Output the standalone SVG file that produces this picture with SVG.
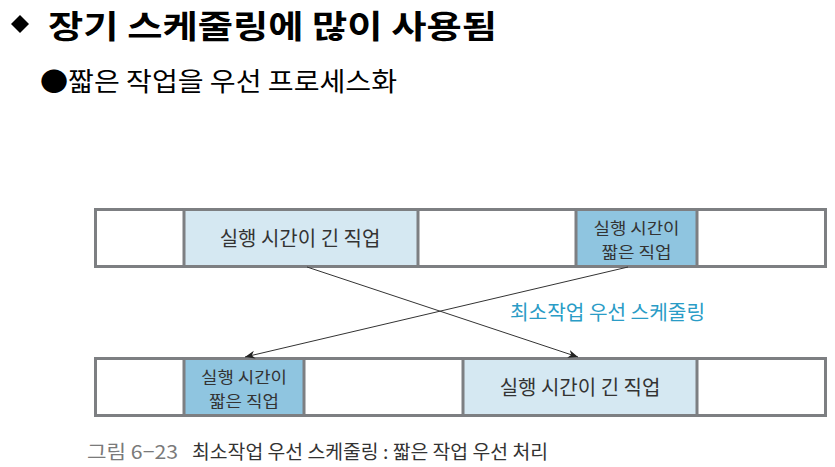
<svg xmlns="http://www.w3.org/2000/svg" width="835" height="467" viewBox="0 0 835 467">
<defs>
<style>
.t{font-family:"Noto Sans CJK KR","Noto Sans",sans-serif}
.bar{fill:#ffffff;stroke:#7d7f82;stroke-width:3}
.lb{fill:#d5e8f2;stroke:#7d7f82;stroke-width:3}
.db{fill:#8fc5e0;stroke:#7d7f82;stroke-width:3}
.bt{font-family:"Noto Sans CJK KR","Noto Sans",sans-serif;fill:#333333;text-anchor:middle}
.ln{stroke:#333333;stroke-width:1;fill:none}
</style>
<marker id="ah" viewBox="0 0 10 10" refX="10" refY="5" markerWidth="10" markerHeight="10" markerUnits="userSpaceOnUse" orient="auto">
<path d="M0,1 L10,5 L0,9 L3,5 Z" fill="#222222"/>
</marker>
</defs>
<rect width="835" height="467" fill="#ffffff"/>
<g id="title">
<path d="M20,15 L29,24 L20,33 L11,24 Z" fill="#000000"/>
<text class="t" x="48" y="38" font-size="32" font-weight="bold" fill="#000000" textLength="449" lengthAdjust="spacingAndGlyphs">장기 스케줄링에 많이 사용됨</text>
</g>
<g id="subtitle">
<text class="t" x="40" y="91" font-size="26" fill="#000000" textLength="357" lengthAdjust="spacingAndGlyphs">●짧은 작업을 우선 프로세스화</text>
</g>
<g id="top-bar">
<rect class="bar" x="95.5" y="209.5" width="730" height="57"/>
<rect class="lb" x="184" y="209.5" width="234" height="57"/>
<rect class="db" x="576" y="209.5" width="121" height="57"/>
<text class="bt" x="300" y="246" font-size="20">실행 시간이 긴 직업</text>
<text class="bt" x="636.5" y="234" font-size="16" textLength="86" lengthAdjust="spacingAndGlyphs">실행 시간이</text>
<text class="bt" x="636.5" y="258" font-size="16" textLength="70" lengthAdjust="spacingAndGlyphs">짧은 직업</text>
</g>
<g id="bottom-bar">
<rect class="bar" x="95.5" y="358.5" width="730" height="57"/>
<rect class="db" x="184" y="358.5" width="120" height="57"/>
<rect class="lb" x="463" y="358.5" width="234" height="57"/>
<text class="bt" x="580" y="395" font-size="20">실행 시간이 긴 직업</text>
<text class="bt" x="244" y="383" font-size="16" textLength="86" lengthAdjust="spacingAndGlyphs">실행 시간이</text>
<text class="bt" x="244" y="407" font-size="16" textLength="70" lengthAdjust="spacingAndGlyphs">짧은 직업</text>
</g>
<g id="connectors">
<line class="ln" x1="307" y1="267" x2="578" y2="357" marker-end="url(#ah)"/>
<line class="ln" x1="628" y1="267" x2="245" y2="357" marker-end="url(#ah)"/>
</g>
<g id="label">
<text class="t" x="510" y="320" font-size="20" fill="#2a9cc6" textLength="195" lengthAdjust="spacingAndGlyphs">최소작업 우선 스케줄링</text>
</g>
<g id="caption">
<text class="t" x="87" y="459" font-size="19" fill="#7a7a7a" textLength="91" lengthAdjust="spacingAndGlyphs">그림 6−23</text>
<text class="t" x="192" y="459" font-size="19" fill="#333333" textLength="356" lengthAdjust="spacingAndGlyphs">최소작업 우선 스케줄링 : 짧은 작업 우선 처리</text>
</g>
</svg>
